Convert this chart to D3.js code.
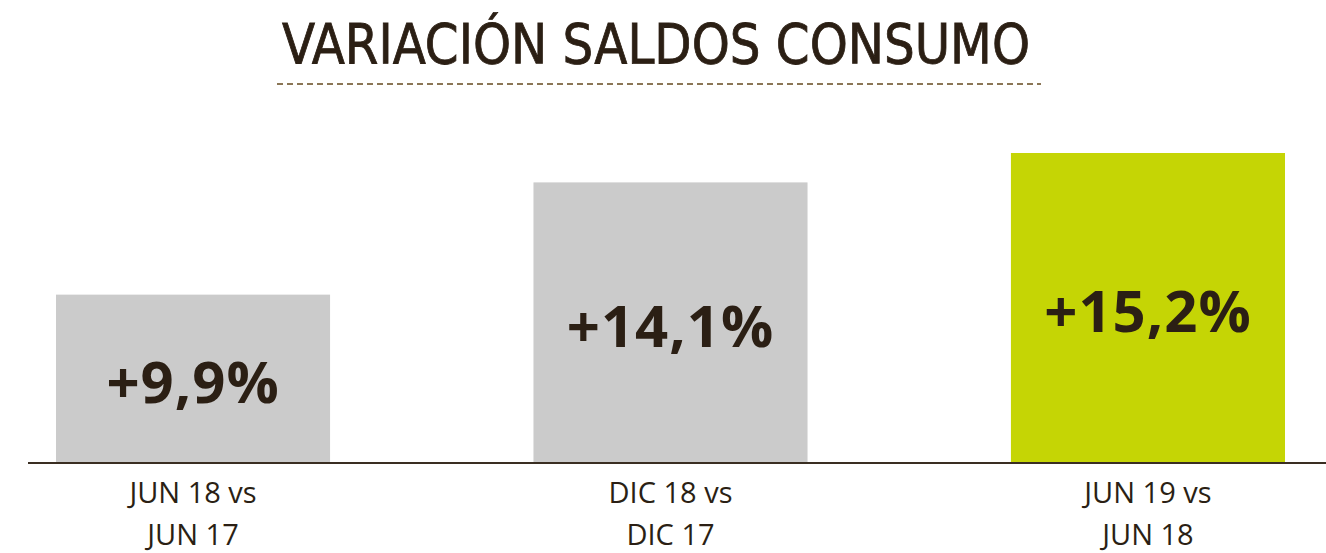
<!doctype html>
<html lang="es">
<head>
  <meta charset="utf-8">
  <title>Variación saldos consumo</title>
  <script src="https://cdnjs.cloudflare.com/ajax/libs/d3/7.8.5/d3.min.js"></script>
  <style>
    body { margin: 0; background: #fff; overflow: hidden; }
    text { fill: #2b1f14; }
  </style>
</head>
<body>
<script>
  // datos
  const categories = ["JUN 18 vs|JUN 17", "DIC 18 vs|DIC 17", "JUN 19 vs|JUN 18"]
  const values = [9.9, 14.1, 15.2]
  const valueLabels = ["+9,9%", "+14,1%", "+15,2%"]
  const barColors = ["#cbcbcb", "#cbcbcb", "#c5d505"]

  const width = 1326, height = 553
  const baseY = 463

  const svg = d3.select("body").append("svg")
    .attr("width", width)
    .attr("height", height)

  // titulo
  svg.append("text")
    .attr("x", 656)
    .attr("y", 63)
    .attr("text-anchor", "middle")
    .attr("textLength", 748)
    .attr("lengthAdjust", "spacingAndGlyphs")
    .style("font-family", "'DejaVu Sans Condensed', 'DejaVu Sans'")
    .style("font-stretch", "condensed")
    .style("font-size", "56px")
    .style("stroke", "#2b1f14")
    .style("stroke-width", 0.8)
    .text("VARIACIÓN SALDOS CONSUMO")

  svg.append("line")
    .attr("x1", 277).attr("x2", 1041)
    .attr("y1", 84).attr("y2", 84)
    .attr("stroke", "#8b7656")
    .attr("stroke-width", 2)
    .attr("stroke-dasharray", "6,4")

  let x = d3.scaleBand()
    .domain(categories)
    .range([56, 1285])
    .paddingInner(0.426)
    .paddingOuter(0)

  // la escala no arranca en cero (asi esta en el original)
  let y = d3.scaleLinear()
    .domain([3.6, 15.2])
    .range([baseY, 153])

  svg.selectAll("rect.bar")
    .data(values)
    .enter()
    .append("rect")
    .attr("class", "bar")
    .attr("x", (d, i) => x(categories[i]))
    .attr("y", d => y(d))
    .attr("width", x.bandwidth())
    .attr("height", d => baseY - y(d))
    .attr("fill", (d, i) => barColors[i])

  svg.selectAll("text.val")
    .data(values)
    .enter()
    .append("text")
    .attr("class", "val")
    .attr("x", (d, i) => x(categories[i]) + x.bandwidth() / 2)
    .attr("y", d => (y(d) + baseY) / 2 + 24)
    .attr("text-anchor", "middle")
    .style("font-family", "'Open Sans'")
    .style("font-weight", 700)
    .style("font-size", "58px")
    .style("letter-spacing", "1px")
    .text((d, i) => valueLabels[i])

  // eje base
  svg.append("line")
    .attr("x1", 28).attr("x2", width)
    .attr("y1", baseY).attr("y2", baseY)
    .attr("stroke", "#3a2e22")
    .attr("stroke-width", 2)

  let labels = svg.selectAll("text.cat")
    .data(categories)
    .enter()
    .append("text")
    .attr("class", "cat")
    .attr("text-anchor", "middle")
    .style("font-family", "'Open Sans'")
    .style("font-size", "29px")

  labels.selectAll("tspan")
    .data(d => d.split("|").map(t => ({ t: t, c: d })))
    .enter()
    .append("tspan")
    .attr("x", d => x(d.c) + x.bandwidth() / 2)
    .attr("y", (d, i) => 503 + i * 42)
    .text(d => d.t)
</script>
</body>
</html>
